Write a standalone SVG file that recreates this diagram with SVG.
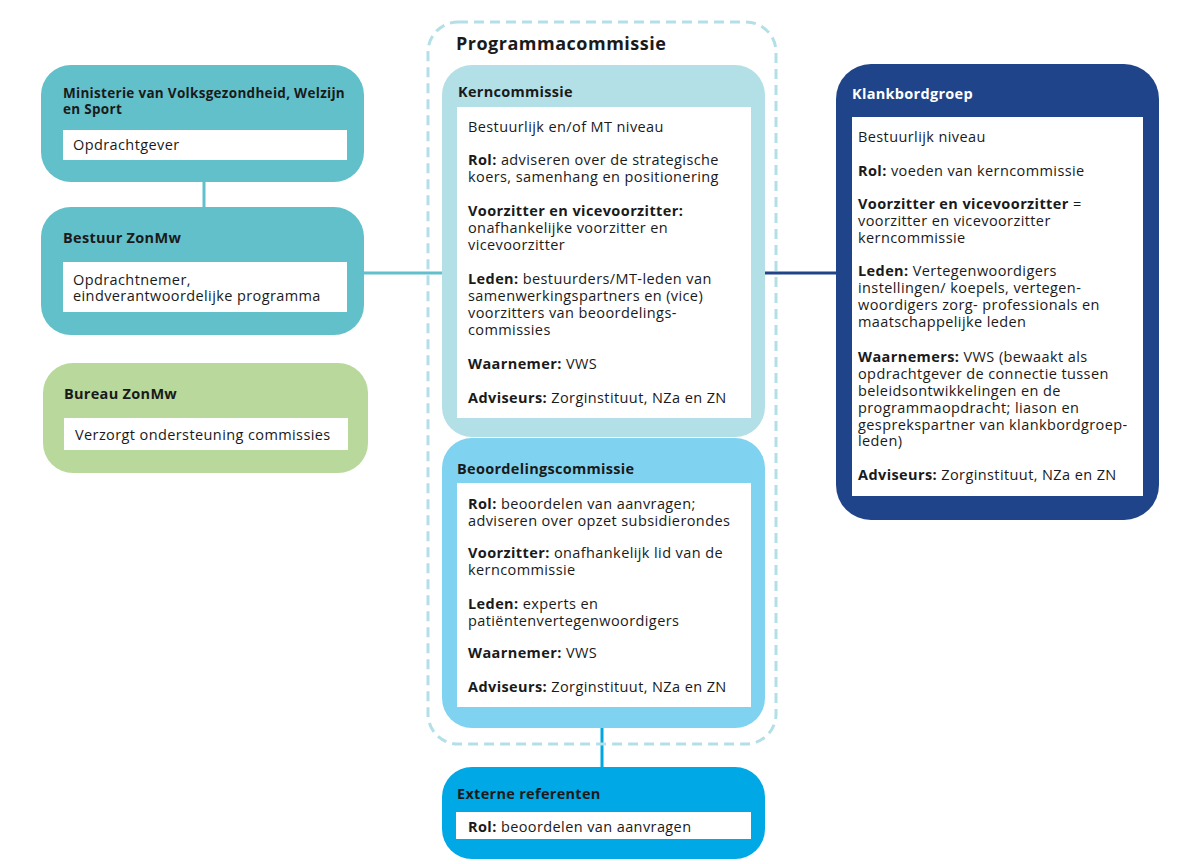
<svg xmlns="http://www.w3.org/2000/svg" width="1200" height="864" viewBox="0 0 1200 864">
<style>
text{font-family:"Open Sans","Liberation Sans",sans-serif;fill:#1a1a1a}
.t{font-size:14.5px;font-weight:700;letter-spacing:0.3px}
.tm{font-size:13.5px;font-weight:700;letter-spacing:0.3px}
.b{font-size:14.5px;letter-spacing:0.4px}
.bold{font-weight:700}
.w{fill:#fff}
.card{fill:#fff}
</style>
<rect width="1200" height="864" fill="#fff"/>
<g id="connectors" fill="none" stroke-width="3">
<line x1="204" y1="181" x2="204" y2="208" stroke="#61c0cc"/>
<line x1="363" y1="273" x2="443" y2="273" stroke="#61c0cc"/>
<line x1="764" y1="273" x2="837" y2="273" stroke="#1f4489"/>
<line x1="602" y1="727" x2="602" y2="768" stroke="#00a7e1"/>
</g>
<g id="programmacommissie">
<rect x="428" y="22" width="348" height="722" rx="30" fill="none" stroke="#b3e0e7" stroke-width="3" stroke-dasharray="10 6"/>
<text x="456" y="50" style="font-size:18px;font-weight:700;letter-spacing:0.5px">Programmacommissie</text>
</g>
<g id="ministerie">
<rect x="41" y="65" width="323" height="117" rx="30" fill="#62c0cb"/>
<text x="63" y="98" class="tm">Ministerie van Volksgezondheid, Welzijn</text>
<text x="63" y="114" class="tm">en Sport</text>
<rect x="63" y="130" width="284" height="30" class="card"/>
<text x="73" y="150" class="b">Opdrachtgever</text>
</g>
<g id="bestuur">
<rect x="41" y="207" width="323" height="128" rx="30" fill="#62c0cb"/>
<text x="63" y="243" class="t">Bestuur ZonMw</text>
<rect x="63" y="262" width="284" height="50" class="card"/>
<text x="73" y="285" class="b">Opdrachtnemer,</text>
<text x="73" y="301" class="b">eindverantwoordelijke programma</text>
</g>
<g id="bureau">
<rect x="43" y="363" width="325" height="110" rx="30" fill="#b9d89c"/>
<text x="64" y="399" class="t">Bureau ZonMw</text>
<rect x="64" y="418" width="284" height="32" class="card"/>
<text x="75" y="440" class="b">Verzorgt ondersteuning commissies</text>
</g>
<g id="kerncommissie">
<rect x="442" y="65" width="323" height="372" rx="30" fill="#b3e0e7"/>
<text x="458" y="97" class="t">Kerncommissie</text>
<rect x="457" y="107" width="294" height="311" class="card"/>
<text x="468" y="132" class="b">Bestuurlijk en/of MT niveau</text>
<text x="468" y="165" class="b"><tspan class="bold">Rol:</tspan> adviseren over de strategische</text>
<text x="468" y="182" class="b">koers, samenhang en positionering</text>
<text x="468" y="216" class="b bold">Voorzitter en vicevoorzitter:</text>
<text x="468" y="233" class="b">onafhankelijke voorzitter en</text>
<text x="468" y="250" class="b">vicevoorzitter</text>
<text x="468" y="284" class="b"><tspan class="bold">Leden:</tspan> bestuurders/MT-leden van</text>
<text x="468" y="301" class="b">samenwerkingspartners en (vice)</text>
<text x="468" y="318" class="b">voorzitters van beoordelings-</text>
<text x="468" y="335" class="b">commissies</text>
<text x="468" y="369" class="b"><tspan class="bold">Waarnemer:</tspan> VWS</text>
<text x="468" y="403" class="b"><tspan class="bold">Adviseurs:</tspan> Zorginstituut, NZa en ZN</text>
</g>
<g id="beoordelingscommissie">
<rect x="442" y="438" width="323" height="290" rx="30" fill="#7fd3f0"/>
<text x="457" y="474" class="t">Beoordelingscommissie</text>
<rect x="457" y="483" width="294" height="224" class="card"/>
<text x="468" y="509" class="b"><tspan class="bold">Rol:</tspan> beoordelen van aanvragen;</text>
<text x="468" y="526" class="b">adviseren over opzet subsidierondes</text>
<text x="468" y="558" class="b"><tspan class="bold">Voorzitter:</tspan> onafhankelijk lid van de</text>
<text x="468" y="575" class="b">kerncommissie</text>
<text x="468" y="609" class="b"><tspan class="bold">Leden:</tspan> experts en</text>
<text x="468" y="626" class="b">patiëntenvertegenwoordigers</text>
<text x="468" y="658" class="b"><tspan class="bold">Waarnemer:</tspan> VWS</text>
<text x="468" y="692" class="b"><tspan class="bold">Adviseurs:</tspan> Zorginstituut, NZa en ZN</text>
</g>
<g id="externe-referenten">
<rect x="442" y="767" width="323" height="92" rx="30" fill="#00a8e6"/>
<text x="457" y="799" class="t">Externe referenten</text>
<rect x="456" y="812" width="295" height="27" class="card"/>
<text x="468" y="832" class="b"><tspan class="bold">Rol:</tspan> beoordelen van aanvragen</text>
</g>
<g id="klankbordgroep">
<rect x="836" y="64" width="323" height="456" rx="35" fill="#1f4489"/>
<text x="852" y="99" class="t w">Klankbordgroep</text>
<rect x="852" y="117" width="291" height="379" class="card"/>
<text x="858" y="142" class="b">Bestuurlijk niveau</text>
<text x="858" y="176" class="b"><tspan class="bold">Rol:</tspan> voeden van kerncommissie</text>
<text x="858" y="209" class="b"><tspan class="bold">Voorzitter en vicevoorzitter</tspan> =</text>
<text x="858" y="226" class="b">voorzitter en vicevoorzitter</text>
<text x="858" y="243" class="b">kerncommissie</text>
<text x="858" y="276" class="b"><tspan class="bold">Leden:</tspan> Vertegenwoordigers</text>
<text x="858" y="293" class="b">instellingen/ koepels, vertegen-</text>
<text x="858" y="310" class="b">woordigers zorg- professionals en</text>
<text x="858" y="327" class="b">maatschappelijke leden</text>
<text x="858" y="362" class="b"><tspan class="bold">Waarnemers:</tspan> VWS (bewaakt als</text>
<text x="858" y="379" class="b">opdrachtgever de connectie tussen</text>
<text x="858" y="396" class="b">beleidsontwikkelingen en de</text>
<text x="858" y="413" class="b">programmaopdracht; liason en</text>
<text x="858" y="430" class="b">gesprekspartner van klankbordgroep-</text>
<text x="858" y="446" class="b">leden)</text>
<text x="858" y="480" class="b"><tspan class="bold">Adviseurs:</tspan> Zorginstituut, NZa en ZN</text>
</g>
</svg>
